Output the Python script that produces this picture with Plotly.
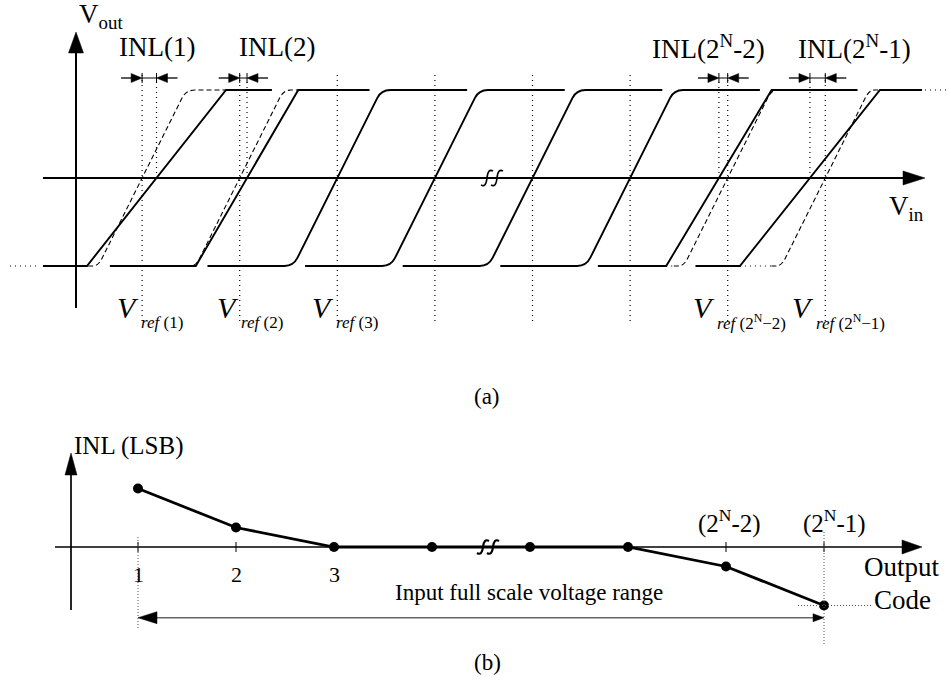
import math
import plotly.graph_objects as go

# ---------------- data ----------------
# panel (b): INL per output code (code index 1..8, 4|5 separated by a break)
codes = [1, 2, 3, 4, 5, 6, 7, 8]
inl_lsb = [1.5, 0.5, 0.0, 0.0, 0.0, 0.0, -0.5, -1.5]
code_labels = ["1", "2", "3", "", "", "", "(2<sup>N</sup>-2)", "(2<sup>N</sup>-1)"]

# panel (a): transfer characteristic (units of LSB along V_in)
vref_ideal = [1, 2, 3, 4, 5, 6, 7, 8]
foot_actual = [0.435, 1.55, 2.55, 3.55, 4.55, 5.55, 6.37, 7.125]
top_actual = [1.86, 2.60, 3.45, 4.45, 5.45, 6.45, 7.45, 8.56]
vref_labels = ["(1)", "(2)", "(3)", "", "", "", "(2<sup>N</sup>\u22122)", "(2<sup>N</sup>\u22121)"]
inl_steps = [0, 1, 6, 7]
inl_names = ["INL(1)", "INL(2)", "INL(2<sup>N</sup>-2)", "INL(2<sup>N</sup>-1)"]
vout_low, vout_high = -1.0, 1.0
half_ramp = 0.45
step_span = 1.33

# ---------------- geometry helpers ----------------
W, H = 951, 684
FONT = "Liberation Serif, Times New Roman, serif"


class Panel:
    def __init__(self, x0, xs, y0, ys, xref, yref):
        self.x0, self.xs, self.y0, self.ys = x0, xs, y0, ys
        self.xref, self.yref = xref, yref

    def X(self, u):
        return self.x0 + self.xs * u

    def Y(self, v):
        return self.y0 - self.ys * v

    def u(self, px):
        return (px - self.x0) / self.xs

    def v(self, py):
        return (self.y0 - py) / self.ys

    def d(self, cmds):
        out = []
        for c in cmds:
            op, pts = c[0], c[1:]
            out.append(op + " " + " ".join(f"{self.u(p[0]):.5f},{self.v(p[1]):.5f}" for p in pts))
        return " ".join(out).strip()


A = Panel(44.5, 97.6, 178.0, 88.0, "x", "y")
B = Panel(40.0, 98.0, 547.0, 39.0, "x2", "y2")

shapes = []
annotations = []
traces = []


def add_path(P, cmds, color="black", width=1.9, dash=None, fill=None):
    line = dict(color=color, width=width)
    if dash:
        line["dash"] = dash
    shp = dict(type="path", xref=P.xref, yref=P.yref, path=P.d(cmds), line=line, layer="above")
    if fill:
        shp["fillcolor"] = fill
    shapes.append(shp)


def add_seg(P, p0, p1, **kw):
    add_path(P, [("M", p0), ("L", p1)], **kw)


def add_head(P, tip, direction, length, half, color="black"):
    tx, ty = tip
    dx, dy = {"right": (1, 0), "left": (-1, 0), "up": (0, -1), "down": (0, 1)}[direction]
    bx, by = tx - dx * length, ty - dy * length
    nx, ny = -dy, dx
    add_path(P, [("M", (tx, ty)), ("L", (bx + nx * half, by + ny * half)),
                 ("L", (bx - nx * half, by - ny * half)), ("Z",)],
             color=color, width=0.5, fill=color)


def rounded(P, pts, r, **kw):
    cmds = [("M", pts[0])]
    for i in range(1, len(pts) - 1):
        p0, p1, p2 = pts[i - 1], pts[i], pts[i + 1]
        l1 = math.hypot(p1[0] - p0[0], p1[1] - p0[1]) or 1
        l2 = math.hypot(p2[0] - p1[0], p2[1] - p1[1]) or 1
        rr1, rr2 = min(r, l1 * 0.5), min(r, l2 * 0.5)
        a = (p1[0] - rr1 * (p1[0] - p0[0]) / l1, p1[1] - rr1 * (p1[1] - p0[1]) / l1)
        b = (p1[0] + rr2 * (p2[0] - p1[0]) / l2, p1[1] + rr2 * (p2[1] - p1[1]) / l2)
        cmds += [("L", a), ("Q", p1, b)]
    cmds.append(("L", pts[-1]))
    add_path(P, cmds, **kw)


def text(px, py, s, size, xanchor="center", yanchor="middle", color="black", xshift=0):
    annotations.append(dict(x=px / W, y=1 - py / H, xref="paper", yref="paper", text=s,
                            showarrow=False, xanchor=xanchor, yanchor=yanchor, xshift=xshift,
                            font=dict(family=FONT, size=size, color=color)))


def break_mark(P, cx, cy, h, width):
    for off in (-5, 5):
        x = cx + off
        add_path(P, [("M", (x + 6, cy - h)), ("Q", (x + 1, cy - h - 3), (x, cy)),
                     ("Q", (x - 1, cy + h + 3), (x - 6, cy + h))], width=width)


DOT = "1px,4px"
DASH = "5px,3px"

# ---------------- panel (a) ----------------
LOW, HIGH, MID = A.Y(vout_low), A.Y(vout_high), A.Y(0)
AX_LEFT, AX_RIGHT = 43, 922

# axes
add_seg(A, (AX_LEFT, MID), (906, MID), width=2)
add_head(A, (925, MID), "right", 22, 7)
add_seg(A, (76, 308), (76, 50), width=2)
add_head(A, (76, 32), "up", 21, 7.5)
break_mark(A, 492, MID, 7, 1.6)

# outer dotted continuations
add_seg(A, (10, LOW), (40, LOW), width=1.2, dash=DOT)
add_seg(A, (AX_RIGHT + 3, HIGH), (948, HIGH), width=1.2, dash=DOT)

for k in range(len(vref_ideal)):
    ideal_foot = A.X(vref_ideal[k] - half_ramp)
    ideal_top = A.X(vref_ideal[k] + half_ramp)
    foot = A.X(foot_actual[k])
    top = A.X(top_actual[k])
    lo_start = max(A.X(vref_ideal[k] - step_span), AX_LEFT)
    hi_end = min(A.X(vref_ideal[k] + step_span), AX_RIGHT)
    is_ideal = abs(foot - ideal_foot) < 1 and abs(top - ideal_top) < 1

    # ideal reference dotted line
    add_seg(A, (A.X(vref_ideal[k]), 75), (A.X(vref_ideal[k]), 325), width=1.2, dash=DOT)

    if is_ideal:
        rounded(A, [(lo_start, LOW), (foot, LOW), (top, HIGH), (hi_end, HIGH)], 9, width=1.9)
    else:
        traces.append(go.Scatter(x=[A.u(lo_start), foot_actual[k], top_actual[k], A.u(hi_end)],
                                 y=[vout_low, vout_low, vout_high, vout_high], mode="lines",
                                 line=dict(color="black", width=1.9), hoverinfo="skip",
                                 showlegend=False, xaxis="x", yaxis="y"))
        d_start = ideal_foot - 10
        if foot < d_start:
            add_seg(A, (foot, LOW), (d_start, LOW), width=1.2, dash=DOT)
        d_end = max(top, ideal_top + 10)
        rounded(A, [(d_start, LOW), (ideal_foot, LOW), (ideal_top, HIGH), (d_end, HIGH)], 9,
                width=1.1, dash=DASH)

# INL markers
for j, k in enumerate(inl_steps):
    ideal = A.X(vref_ideal[k])
    actual = A.X((foot_actual[k] + top_actual[k]) / 2)
    a, b = min(ideal, actual), max(ideal, actual)
    add_seg(A, (actual, 82), (actual, MID), width=1.2, dash=DOT)
    y0 = 78
    add_seg(A, (a - 21, y0), (a - 8, y0), width=1.3)
    add_head(A, (a, y0), "right", 11, 4.5)
    add_seg(A, (b + 21, y0), (b + 8, y0), width=1.3)
    add_head(A, (b, y0), "left", 11, 4.5)
    add_seg(A, (a, y0), (b, y0), width=1)
    add_seg(A, (a, y0 - 5), (a, y0 + 5), width=1)
    add_seg(A, (b, y0 - 5), (b, y0 + 5), width=1)

inl_label_px = [157, 277, 708, 854]
for j, k in enumerate(inl_steps):
    text(inl_label_px[j], 47, inl_names[j], 27)

# labels of panel (a)
text(77, 16, "V<sub>out</sub>", 27, xanchor="left")
text(887, 208, "V<sub>in</sub>", 27, xanchor="left")
vref_label_offset = [2, 0, 2, 0, 0, 0, 12, 10]
for k in range(len(vref_ideal)):
    if not vref_labels[k]:
        continue
    xa = A.X(vref_ideal[k]) - vref_label_offset[k]
    text(xa + 1, 307, "<i>V</i>", 30, xanchor="right")
    text(xa - 1, 322, "<i>ref</i> " + vref_labels[k], 17, xanchor="left")
text(487, 397, "(a)", 23)

# ---------------- panel (b) ----------------
ZERO = B.Y(0)
add_seg(B, (55, ZERO), (904, ZERO), width=1.7)
add_head(B, (922, ZERO), "right", 20, 7)
add_seg(B, (71, 610), (71, 470), width=1.7)
add_head(B, (71, 453), "up", 22, 6)
for i, c in enumerate(codes):
    if code_labels[i] and i not in (2,):
        add_seg(B, (B.X(c), ZERO - 5), (B.X(c), ZERO + 5), width=1)

traces.append(go.Scatter(x=codes, y=inl_lsb, mode="lines+markers",
                         line=dict(color="black", width=2.8),
                         marker=dict(color="black", size=10),
                         hoverinfo="skip", showlegend=False, xaxis="x2", yaxis="y2"))
break_mark(B, 488, ZERO, 6, 2.2)

first_px, last_px = B.X(codes[0]), B.X(codes[-1])
last_y = B.Y(inl_lsb[-1])
add_seg(B, (first_px, 537), (first_px, 628), width=1, color="#555555", dash="1px,2px")
add_seg(B, (last_px, 532), (last_px, 645), width=1, color="#555555", dash="1px,2px")
add_seg(B, (last_px - 26, last_y), (last_px + 49, last_y), width=1, color="#555555", dash="1px,2px")

ARR_Y = 617.7
add_seg(B, (first_px + 15, ARR_Y), (last_px - 8, ARR_Y), width=1.6, color="#666666")
add_head(B, (first_px, ARR_Y), "left", 19, 6)
add_head(B, (last_px, ARR_Y), "right", 11, 4)

code_label_shift = [0, 0, 0, 0, 0, 0, 3, 10]
for i, c in enumerate(codes):
    if not code_labels[i]:
        continue
    if inl_lsb[i] >= 0 and i < 3:
        text(B.X(c), 574, code_labels[i], 22)
    else:
        text(B.X(c), 521, code_labels[i], 25, xshift=code_label_shift[i])

text(72, 446, "INL (LSB)", 25, xanchor="left")
text(902, 567, "Output", 27)
text(902, 600, "Code", 27)
text(529, 592, "Input full scale voltage range", 23)
text(487, 662, "(b)", 23)

# ---------------- figure ----------------
fig = go.Figure(traces)
axis_common = dict(visible=False, showgrid=False, zeroline=False, fixedrange=True, domain=[0, 1])
fig.update_layout(
    width=W, height=H, autosize=False,
    margin=dict(l=0, r=0, t=0, b=0, pad=0),
    paper_bgcolor="white", plot_bgcolor="rgba(0,0,0,0)",
    xaxis=dict(range=[A.u(0), A.u(W)], anchor="y", **axis_common),
    yaxis=dict(range=[A.v(H), A.v(0)], anchor="x", **axis_common),
    xaxis2=dict(range=[B.u(0), B.u(W)], anchor="y2", **axis_common),
    yaxis2=dict(range=[B.v(H), B.v(0)], anchor="x2", **axis_common),
    shapes=shapes, annotations=annotations, showlegend=False,
)
fig.write_html("out.html", config={"staticPlot": True},
               post_script="document.body.style.margin='0px';document.body.style.overflow='hidden';")
